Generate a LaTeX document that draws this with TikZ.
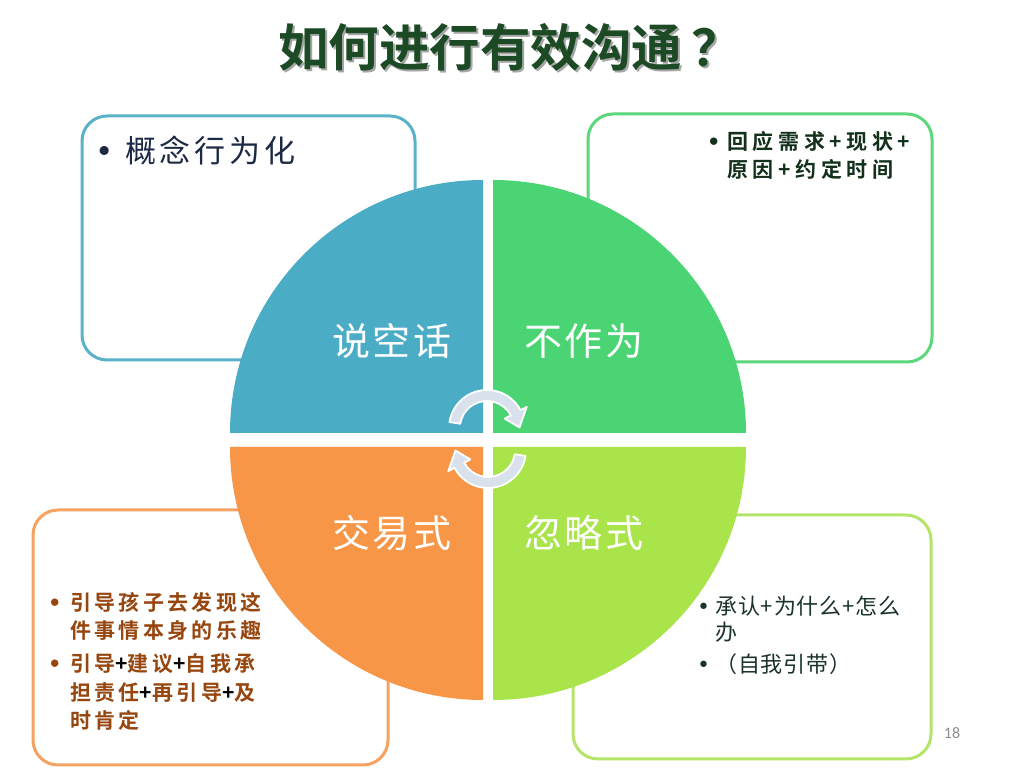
\documentclass[tikz,border=0pt]{standalone}
\usepackage{fontspec}
\setmainfont{Noto Sans CJK SC}[BoldFont={Noto Sans CJK SC Bold}]
\newfontfamily\spA{Noto Sans CJK SC}[LetterSpace=12,BoldFont={Noto Sans CJK SC Bold}]
\newfontfamily\spC{Noto Sans CJK SC}[LetterSpace=16,BoldFont={Noto Sans CJK SC Bold}]
\newfontfamily\spB{Noto Sans CJK SC}[LetterSpace=22,BoldFont={Noto Sans CJK SC Bold}]
\newfontfamily\spQ{Noto Sans CJK SC}[LetterSpace=6]
\newfontfamily\spD{Noto Sans CJK SC}[LetterSpace=4]
\newfontfamily\symf{DejaVu Sans}
\newfontfamily\numfont{Carlito}
\usetikzlibrary{calc}
\definecolor{qblue}{HTML}{4BACC6}
\definecolor{qgreen}{HTML}{4BD473}
\definecolor{qorange}{HTML}{F79646}
\definecolor{qlime}{HTML}{A8E44A}
\definecolor{bblue}{HTML}{5AB2C9}
\definecolor{bgreen}{HTML}{5CD77C}
\definecolor{borange}{HTML}{F5A262}
\definecolor{blime}{HTML}{B4E46A}
\definecolor{titlec}{HTML}{1B4A24}
\definecolor{tlc}{HTML}{1C2A45}
\definecolor{trc}{HTML}{12301A}
\definecolor{blc}{HTML}{96460E}
\definecolor{brc}{HTML}{1B3328}
\definecolor{arrowc}{HTML}{D8E1EC}
\newcommand{\bul}[2][0pt]{\makebox[#2][l]{\hspace*{#1}{\symf •}}}
\begin{document}
\begin{tikzpicture}[x=1pt,y=1pt,
  box/.style={line width=3pt,rounded corners=25pt},
  qlabel/.style={text=white,inner sep=0pt,font=\spQ\fontsize{38}{40}\selectfont},
  cyc/.style={fill=arrowc,draw=white,line width=1.8pt,line join=round},
  ttl/.style={inner sep=0pt,anchor=west,font=\bfseries\fontsize{50.5}{52}\selectfont},
  txt/.style={inner sep=0pt,align=left,anchor=north west}]
\useasboundingbox (0,0) rectangle (1017,768);
\fill[white] (0,0) rectangle (1017,768);
% boxes
\draw[box,draw=bblue] (82,408) rectangle (415,652);
\draw[box,draw=bgreen] (588,406) rectangle (932,654);
\draw[box,draw=borange] (33,3) rectangle (388,258);
\draw[box,draw=blime] (573,9) rectangle (931,253);
% quadrants
\fill[qblue] (483,335) -- ++(-253,0) arc[start angle=180,end angle=90,radius=253] -- cycle;
\fill[qgreen] (493,335) -- ++(0,253) arc[start angle=90,end angle=0,radius=253] -- cycle;
\fill[qorange] (483,321) -- ++(-253,0) arc[start angle=180,end angle=270,radius=253] -- cycle;
\fill[qlime] (493,321) -- ++(0,-253) arc[start angle=270,end angle=360,radius=253] -- cycle;
% labels
\node[qlabel] (q1) at (392,427) {说空话};
\node[qlabel] (q2) at (584,427) {不作为};
\node[qlabel] (q3) at (392,235) {交易式};
\node[qlabel] (q4) at (584,235) {忽略式};
% cycle arrows
\coordinate (U) at (487,340);
\coordinate (L) at (488,318);
\path[cyc] ([shift={(171:38)}]U) arc[start angle=171,end angle=28,radius=38]
  -- ([shift={(28:45)}]U) -- ([shift={(1:32.5)}]U) -- ([shift={(28:20)}]U)
  -- ([shift={(28:27)}]U) arc[start angle=28,end angle=171,radius=27] -- cycle;
\path[cyc] ([shift={(351:38)}]L) arc[start angle=351,end angle=208,radius=38]
  -- ([shift={(208:45)}]L) -- ([shift={(181:32.5)}]L) -- ([shift={(208:20)}]L)
  -- ([shift={(208:27)}]L) arc[start angle=208,end angle=351,radius=27] -- cycle;
% title
\node[ttl,text=black!35] (titleshadow) at (280,719) {如何进行有效沟通\hspace{9pt}？};
\node[ttl,text=titlec] (title) at (278,721) {如何进行有效沟通\hspace{9pt}？};
% texts
\node[txt,text=tlc,font=\spA\fontsize{31}{34}\selectfont] (tltext) at (99,632) {\bul[-4pt]{26pt}概念行为化};
\node[txt,text=trc,font=\spB\bfseries\fontsize{21}{28}\selectfont] (trtext) at (707,637)
  {\bul{20pt}回应需求+现状+\\\hspace*{20pt}原因+约定时间};
\node[txt,text=blc,font=\spC\bfseries\fontsize{21}{28.5}\selectfont] (bltext) at (48,176)
  {\bul{22pt}引导孩子去发现这\\\hspace*{22pt}件事情本身的乐趣\\[4.5pt]
   \bul{22pt}引导{\color{black}+}建议{\color{black}+}自我承\\\hspace*{22pt}担责任{\color{black}+}再引导{\color{black}+}及\\\hspace*{22pt}时肯定};
\node[txt,text=brc,font=\spD\fontsize{22}{26}\selectfont] (brtext) at (697,172)
  {\bul{18pt}承认+为什么+怎么\\\hspace*{18pt}办\\[6pt]\bul{18pt}（自我引带）};
\node[text=black!45,inner sep=0pt,font=\numfont\fontsize{16}{16}\selectfont] (pnum) at (952,35) {18};
\end{tikzpicture}
\end{document}
